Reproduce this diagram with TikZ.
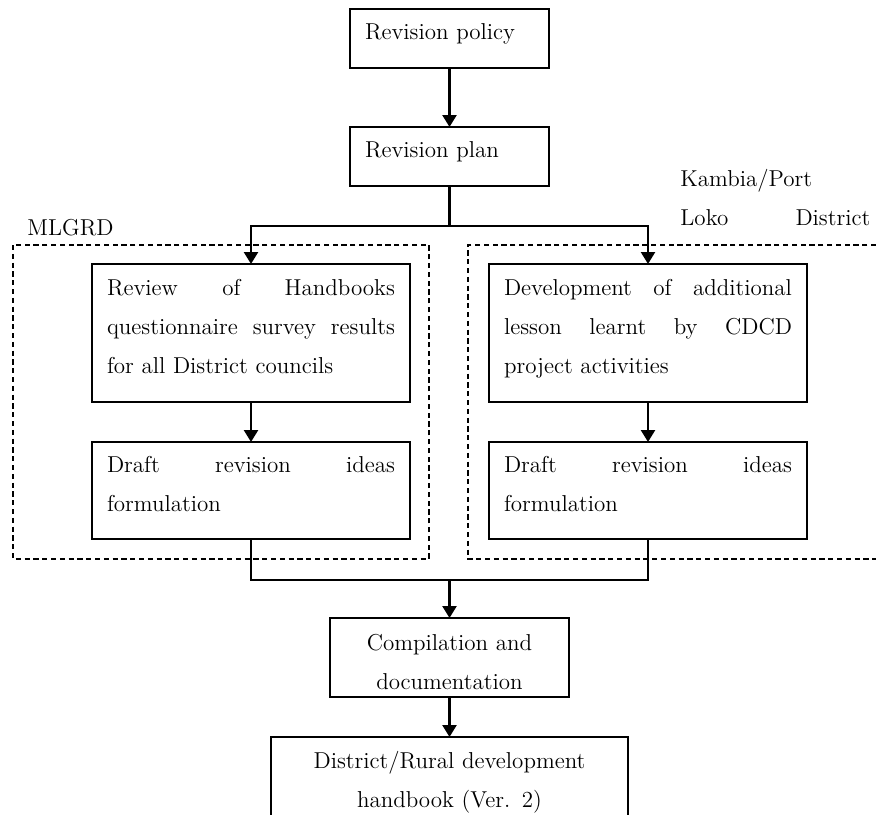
\documentclass[tikz,border=0pt]{standalone}
\usepackage{tikz}
\usetikzlibrary{arrows.meta, positioning}
% a justified line inside a fixed-width block
\newcommand{\spreadrow}[2][144pt]{\leavevmode\hbox to #1{\spaceskip=0.33em plus 1fil\relax #2}}
\tikzset{
    % Base style for all blocks
    block/.style={
        rectangle,
        draw=black,
        line width=1.1pt,
        inner xsep=7.5pt,
        inner ysep=0pt,
        outer sep=0pt,
        align=left,
        font=\fontsize{11.5}{19.5}\selectfont
    },
    % Specific styles
    headStage/.style={block, text width=84.5pt, text height=15pt, text depth=14.5pt},
    reviewStage/.style={block, text width=144pt, text height=15.5pt, text depth=53.5pt},
    draftStage/.style={block, text width=144pt, text height=15pt, text depth=33.5pt},
    compileStage/.style={block, align=center, text width=90pt, minimum width=119.5pt, text height=16pt, text depth=23.5pt},
    resultStage/.style={block, align=center, text width=150pt, minimum width=178.5pt, text height=15.5pt, text depth=49pt},
    % Arrow and Label styles
    arrow/.style={-{Triangle[length=6pt, width=7pt]}, line width=1.2pt},
    link/.style={line width=1.3pt},
    groupFrame/.style={dash pattern=on 2.6pt off 1.8pt, line width=0.8pt},
    groupLabel/.style={font=\fontsize{11.5}{19.5}\selectfont, inner sep=0pt, anchor=base west}
}

\begin{document}
\begin{tikzpicture}[x=0.5pt, y=-0.5pt]

    % --- Canvas ---
    \path [use as bounding box, clip] (0,0) rectangle (876,814);

    % --- TOP (Policy & Plan) ---
    \node (policy) [headStage, anchor=north] at (449.5,9) {Revision policy};
    \node (plan) [headStage, below=29.5pt of policy] {Revision plan};

    % --- LEFT COLUMN (MLGRD) ---
    \node (reviewA) [reviewStage, below=39pt of plan, xshift=-99.25pt] {
        \spreadrow{Review of Handbooks}\\
        \spreadrow{questionnaire survey results}\\
        for all District councils
    };
    \node (draftA) [draftStage, below=20pt of reviewA] {
        \spreadrow{Draft revision ideas}\\
        formulation
    };

    % --- RIGHT COLUMN (Kambia/Port Loko District) ---
    \node (lessonB) [reviewStage, right=39.5pt of reviewA] {
        \spreadrow{Development of additional}\\
        \spreadrow{lesson learnt by CDCD}\\
        project activities
    };
    \node (draftB) [draftStage, below=20pt of lessonB] {
        \spreadrow{Draft revision ideas}\\
        formulation
    };

    % --- BOTTOM (Compilation & Handbook) ---
    \node (compile) [compileStage, below=39.5pt of draftA, xshift=99.25pt] {
        Compilation and\\
        documentation
    };
    \node (handbook) [resultStage, below=20pt of compile] {
        District/Rural development\\
        handbook (Ver. 2)
    };

    % --- Junctions ---
    \coordinate [below=20pt of plan] (fork);
    \coordinate [above=19pt of compile] (merge);

    % --- Arrows ---
    \draw [arrow] (policy) -- (plan);
    \draw [link] (plan) -- (fork);
    \draw [arrow] (fork) -| (reviewA);
    \draw [arrow] (fork) -| (lessonB);
    \draw [arrow] (reviewA) -- (draftA);
    \draw [arrow] (lessonB) -- (draftB);
    \draw [link] (draftA) |- (merge);
    \draw [link] (draftB) |- (merge);
    \draw [arrow] (merge) -- (compile);
    \draw [arrow] (compile) -- (handbook);

    % --- Grouping ---
    \draw [groupFrame] (13,245) rectangle (429,559);
    \draw [groupFrame] (885,245) -- (468,245) -- (468,559) -- (885,559);
    \node (mlgrd) [groupLabel] at (27,235) {MLGRD};
    \node (kambia) [groupLabel, text width=95pt, align=left] at (680,186) {
        Kambia/Port\\
        \spreadrow[95pt]{Loko District}
    };

\end{tikzpicture}
\end{document}
